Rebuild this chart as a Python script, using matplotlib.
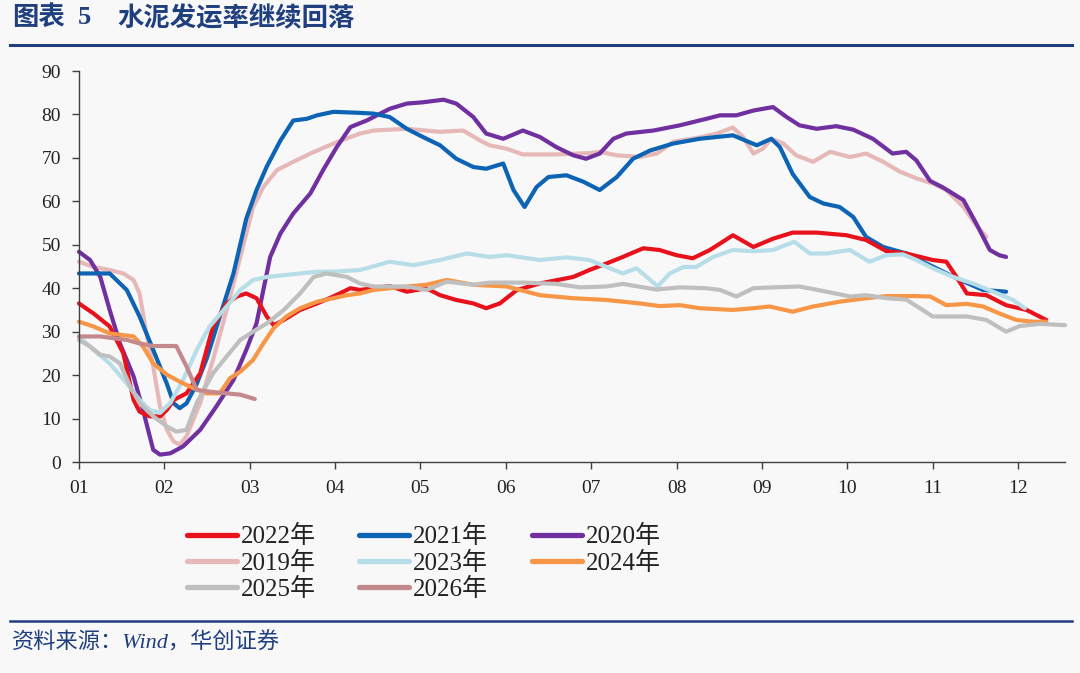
import matplotlib
matplotlib.use('Agg')
import matplotlib.pyplot as plt
from matplotlib.lines import Line2D

# ---------------- data (x = months since 1 Jan, y = 发运率 %) ----------------
month_labels = ['01', '02', '03', '04', '05', '06', '07', '08', '09', '10', '11', '12']

x2019 = [0, 0.17, 0.36, 0.52, 0.64, 0.71, 0.79, 0.87, 0.95, 1.03, 1.11, 1.18, 1.26, 1.42, 1.57, 1.73,
         1.89, 2.04, 2.16, 2.32, 2.47, 2.71, 2.98, 3.29, 3.45, 3.84, 4.23, 4.50, 4.70, 4.81, 5.01, 5.20,
         5.59, 5.98, 6.10, 6.30, 6.57, 6.77, 6.96, 7.27, 7.47, 7.66, 7.78, 7.90, 8.01, 8.11, 8.25, 8.40,
         8.60, 8.80, 9.03, 9.22, 9.42, 9.62, 9.81, 10.0, 10.16, 10.36, 10.51, 10.63]
y2019 = [46.1, 44.9, 44.2, 43.4, 41.9, 38.8, 29.6, 22.0, 12.8, 7.4, 4.7, 4.0, 5.9, 13.6, 23.5, 35.0,
         47.2, 58.7, 63.3, 67.2, 68.7, 71.0, 73.3, 75.6, 76.3, 76.7, 76.0, 76.3, 74.0, 72.9, 72.1, 70.8,
         70.8, 71.1, 71.4, 70.6, 70.2, 71.0, 73.7, 74.7, 75.6, 77.0, 74.8, 71.0, 72.1, 74.4, 73.3, 70.6,
         69.1, 71.4, 70.2, 71.0, 69.1, 66.8, 65.3, 64.1, 62.6, 58.7, 54.5, 51.8]

x2020 = [0, 0.13, 0.25, 0.36, 0.48, 0.64, 0.75, 0.87, 0.95, 1.07, 1.22, 1.42, 1.61, 1.81, 1.96, 2.08,
         2.16, 2.24, 2.36, 2.51, 2.71, 2.86, 3.02, 3.18, 3.37, 3.64, 3.84, 4.03, 4.27, 4.42, 4.62, 4.77,
         4.97, 5.20, 5.40, 5.59, 5.79, 5.94, 6.10, 6.26, 6.41, 6.73, 7.04, 7.35, 7.51, 7.70, 7.90, 8.13,
         8.29, 8.44, 8.64, 8.87, 9.07, 9.30, 9.53, 9.69, 9.81, 9.97, 10.12, 10.36, 10.51, 10.67, 10.78, 10.86]
y2020 = [48.4, 46.5, 42.6, 35.0, 27.3, 19.7, 12.0, 2.8, 1.7, 2.0, 3.6, 7.4, 12.8, 18.9, 25.8, 31.9,
         39.6, 47.2, 52.6, 57.2, 61.8, 67.2, 72.5, 77.1, 78.6, 81.3, 82.5, 82.8, 83.4, 82.5, 79.4, 75.6,
         74.4, 76.3, 74.8, 72.5, 70.6, 69.8, 71.0, 74.4, 75.6, 76.3, 77.5, 79.0, 79.8, 79.8, 80.9, 81.7,
         79.4, 77.5, 76.7, 77.3, 76.5, 74.4, 71.0, 71.4, 69.4, 64.7, 63.2, 60.3, 54.9, 48.8, 47.6, 47.2]

x2021 = [0, 0.36, 0.56, 0.71, 0.87, 1.03, 1.11, 1.18, 1.26, 1.38, 1.50, 1.65, 1.81, 1.96, 2.08, 2.20,
         2.36, 2.51, 2.67, 2.79, 2.98, 3.25, 3.45, 3.64, 3.84, 4.03, 4.23, 4.42, 4.62, 4.77, 4.97, 5.09,
         5.22, 5.36, 5.50, 5.71, 5.91, 6.10, 6.30, 6.49, 6.69, 6.96, 7.27, 7.66, 7.94, 8.11, 8.21, 8.36,
         8.56, 8.72, 8.91, 9.07, 9.22, 9.42, 9.69, 10.0, 10.32, 10.59, 10.86]
y2021 = [43.4, 43.4, 39.6, 33.5, 25.8, 18.0, 13.5, 12.4, 13.5, 18.0, 24.0, 33.5, 43.4, 56.0, 62.6, 68.0,
         74.0, 78.6, 79.0, 79.8, 80.6, 80.4, 80.2, 79.4, 76.7, 74.8, 72.9, 69.8, 67.9, 67.5, 68.7, 62.6,
         58.7, 63.3, 65.6, 66.0, 64.5, 62.6, 65.6, 69.8, 71.7, 73.3, 74.4, 75.2, 72.9, 74.4, 72.5, 66.3,
         61.0, 59.5, 58.7, 56.4, 51.8, 49.5, 48.0, 45.0, 41.9, 39.6, 39.2]

x2022 = [0, 0.17, 0.36, 0.52, 0.64, 0.71, 0.83, 0.95, 1.03, 1.11, 1.26, 1.42, 1.57, 1.73, 1.85, 1.96,
         2.08, 2.20, 2.28, 2.40, 2.59, 2.79, 2.98, 3.18, 3.29, 3.45, 3.64, 3.84, 4.07, 4.23, 4.42, 4.62,
         4.77, 4.93, 5.13, 5.40, 5.79, 5.98, 6.18, 6.37, 6.61, 6.80, 7.00, 7.19, 7.39, 7.51, 7.66, 7.90,
         8.13, 8.36, 8.64, 8.99, 9.22, 9.46, 9.69, 10.0, 10.16, 10.28, 10.40, 10.63, 10.86, 11.10, 11.33]
y2022 = [36.5, 34.2, 31.2, 25.0, 14.3, 11.6, 10.5, 10.5, 12.0, 14.3, 15.8, 20.4, 31.2, 36.5, 38.1, 38.8,
         37.7, 33.5, 31.5, 32.7, 35.0, 36.5, 38.1, 40.0, 39.6, 40.0, 40.5, 39.2, 40.0, 38.4, 37.3, 36.5,
         35.4, 36.5, 39.6, 41.1, 42.6, 44.2, 45.7, 47.2, 49.2, 48.8, 47.6, 46.9, 48.8, 50.3, 52.2, 49.5,
         51.4, 52.8, 52.8, 52.2, 51.1, 48.5, 48.0, 46.5, 46.1, 42.6, 38.8, 38.4, 36.1, 35.0, 32.7]

x2023 = [0, 0.17, 0.36, 0.56, 0.71, 0.83, 0.95, 1.07, 1.22, 1.38, 1.53, 1.73, 1.89, 2.04, 2.20, 2.40,
         2.59, 2.79, 2.98, 3.29, 3.37, 3.64, 3.92, 4.23, 4.54, 4.81, 5.01, 5.40, 5.71, 5.98, 6.18, 6.37,
         6.53, 6.65, 6.78, 6.92, 7.08, 7.23, 7.43, 7.66, 7.90, 8.13, 8.38, 8.56, 8.76, 9.03, 9.26, 9.46,
         9.65, 9.81, 10.0, 10.24, 10.47, 10.71, 10.94, 11.08]
y2023 = [28.9, 25.8, 22.7, 18.1, 14.3, 12.0, 11.3, 13.6, 18.9, 25.8, 31.2, 35.8, 39.6, 41.9, 42.6, 43.0,
         43.4, 43.8, 43.8, 44.2, 44.6, 46.1, 45.3, 46.5, 48.0, 47.2, 47.6, 46.5, 47.1, 46.5, 44.9, 43.4,
         44.6, 42.6, 40.4, 43.4, 44.9, 44.9, 47.2, 48.8, 48.5, 48.8, 50.7, 48.0, 48.0, 48.8, 46.1, 47.6,
         47.8, 46.5, 44.6, 42.6, 41.1, 39.2, 37.3, 35.4]

x2024 = [0, 0.17, 0.36, 0.52, 0.64, 0.75, 0.87, 1.03, 1.18, 1.34, 1.50, 1.65, 1.77, 1.89, 2.04, 2.16,
         2.28, 2.43, 2.59, 2.79, 2.98, 3.14, 3.29, 3.45, 3.84, 4.07, 4.31, 4.62, 5.01, 5.40, 5.79, 6.18,
         6.57, 6.80, 7.04, 7.27, 7.66, 7.90, 8.09, 8.36, 8.60, 8.91, 9.22, 9.46, 9.77, 9.97, 10.16, 10.40,
         10.59, 10.78, 10.98, 11.17, 11.33]
y2024 = [32.3, 31.2, 29.6, 29.2, 28.9, 26.6, 22.7, 20.1, 18.5, 17.0, 15.8, 15.8, 19.3, 20.8, 23.5, 27.3,
         30.8, 33.5, 35.4, 36.9, 37.7, 38.4, 38.8, 39.6, 40.4, 40.8, 41.9, 40.8, 40.4, 38.4, 37.7, 37.3,
         36.5, 35.9, 36.1, 35.4, 35.0, 35.4, 35.8, 34.6, 35.8, 36.9, 37.7, 38.2, 38.2, 38.1, 36.1, 36.4,
         35.8, 34.2, 32.7, 32.3, 32.3]

x2025 = [0, 0.13, 0.25, 0.36, 0.48, 0.60, 0.71, 0.87, 1.03, 1.14, 1.26, 1.38, 1.57, 1.73, 1.89, 2.04,
         2.20, 2.40, 2.59, 2.75, 2.90, 3.14, 3.29, 3.45, 3.84, 4.07, 4.31, 4.62, 4.81, 5.20, 5.59, 5.87,
         6.18, 6.37, 6.76, 7.04, 7.35, 7.51, 7.70, 7.90, 8.13, 8.44, 8.76, 9.03, 9.22, 9.46, 9.69, 9.85,
         10.0, 10.40, 10.63, 10.86, 11.02, 11.25, 11.55]
y2025 = [28.1, 26.6, 24.7, 24.3, 22.7, 17.4, 13.6, 10.5, 8.2, 7.0, 7.4, 13.6, 20.4, 24.3, 28.1, 30.0,
         31.9, 35.0, 38.8, 42.6, 43.4, 42.6, 41.1, 40.4, 40.4, 39.6, 41.5, 40.8, 41.3, 41.3, 41.0, 40.2,
         40.4, 41.0, 39.7, 40.2, 40.0, 39.6, 38.1, 40.0, 40.2, 40.4, 39.2, 38.1, 38.4, 37.7, 37.4, 35.4,
         33.5, 33.5, 32.7, 30.0, 31.3, 31.8, 31.5]

x2026 = [0, 0.25, 0.56, 0.71, 0.87, 1.14, 1.26, 1.38, 1.53, 1.73, 1.89, 2.06]
y2026 = [28.9, 28.9, 28.1, 27.3, 26.7, 26.7, 22.0, 16.6, 16.2, 15.8, 15.5, 14.5]

series = [
    ('2019年', x2019, y2019, '#E6B9B8'),
    ('2020年', x2020, y2020, '#7030A0'),
    ('2021年', x2021, y2021, '#0E64B4'),
    ('2022年', x2022, y2022, '#E8121C'),
    ('2023年', x2023, y2023, '#B7DEE8'),
    ('2024年', x2024, y2024, '#F79646'),
    ('2025年', x2025, y2025, '#BFBFBF'),
    ('2026年', x2026, y2026, '#C4898C'),
]
legend_order = ['2022年', '2019年', '2025年', '2021年', '2023年', '2026年', '2020年', '2024年']

# ---------------- figure ----------------
BG = '#F8F8F8'
NAVY = '#1F3F7F'
SERIF = ['Liberation Serif', 'Noto Sans CJK SC']
CJK = ['Noto Sans CJK SC', 'DejaVu Sans']

fig = plt.figure(figsize=(10.8, 6.73), dpi=100, facecolor=BG)
ax = fig.add_axes([0.0731, 0.3135, 0.9130, 0.581])
ax.set_facecolor(BG)

handles = {}
for name, xs, ys, col in series:
    ln, = ax.plot(xs, ys, color=col, lw=3.0, solid_joinstyle='round',
                  solid_capstyle='round', label=name, clip_on=False)
    handles[name] = ln

ax.set_xlim(0, 11.55)
ax.set_ylim(0, 90)
ax.set_xticks(range(len(month_labels)))
ax.set_xticklabels(month_labels)
ax.set_yticks(range(0, 91, 10))
for s in ['top', 'right']:
    ax.spines[s].set_visible(False)
for s in ['left', 'bottom']:
    ax.spines[s].set_color('#404040')
    ax.spines[s].set_linewidth(1.0)
ax.tick_params(axis='both', direction='out', length=5, width=1.0, color='#404040',
               pad=8, labelsize=14, labelcolor='#222222')
for lab in ax.get_xticklabels() + ax.get_yticklabels():
    lab.set_fontfamily(SERIF)

leg = fig.legend([handles[n] for n in legend_order], legend_order, ncol=3,
                 loc='upper left', bbox_to_anchor=(0.173, 0.2195), frameon=False,
                 prop={'family': SERIF, 'size': 18}, handlelength=2.0,
                 handletextpad=0.15, columnspacing=1.75, labelspacing=0.12,
                 borderpad=0, borderaxespad=0)
for ln in leg.get_lines():
    ln.set_linewidth(3.8)
for t in leg.get_texts():
    t.set_color('#222222')

# title and rules
fig.text(0.011, 0.974, '图表', fontsize=19, fontweight='bold', color=NAVY,
         family=CJK, va='center', ha='left')
fig.text(0.072, 0.974, '5', fontsize=19, fontweight='bold', color=NAVY,
         family=['Liberation Serif'], va='center', ha='left')
fig.text(0.109, 0.974, '水泥发运率继续回落', fontsize=19, fontweight='bold', color=NAVY,
         family=CJK, va='center', ha='left')
fig.add_artist(Line2D([0.009, 0.993], [1 - 45 / 673] * 2, transform=fig.transFigure,
                      color=NAVY, lw=2.2))
fig.add_artist(Line2D([0.009, 0.993], [1 - 621 / 673] * 2, transform=fig.transFigure,
                      color=NAVY, lw=1.8))
fig.text(0.011, 1 - 643 / 673, '资料来源：Wind，华创证券', fontsize=16, style='italic',
         color=NAVY, family=SERIF, va='center', ha='left')

fig.savefig('out.png', dpi=100, facecolor=BG)
